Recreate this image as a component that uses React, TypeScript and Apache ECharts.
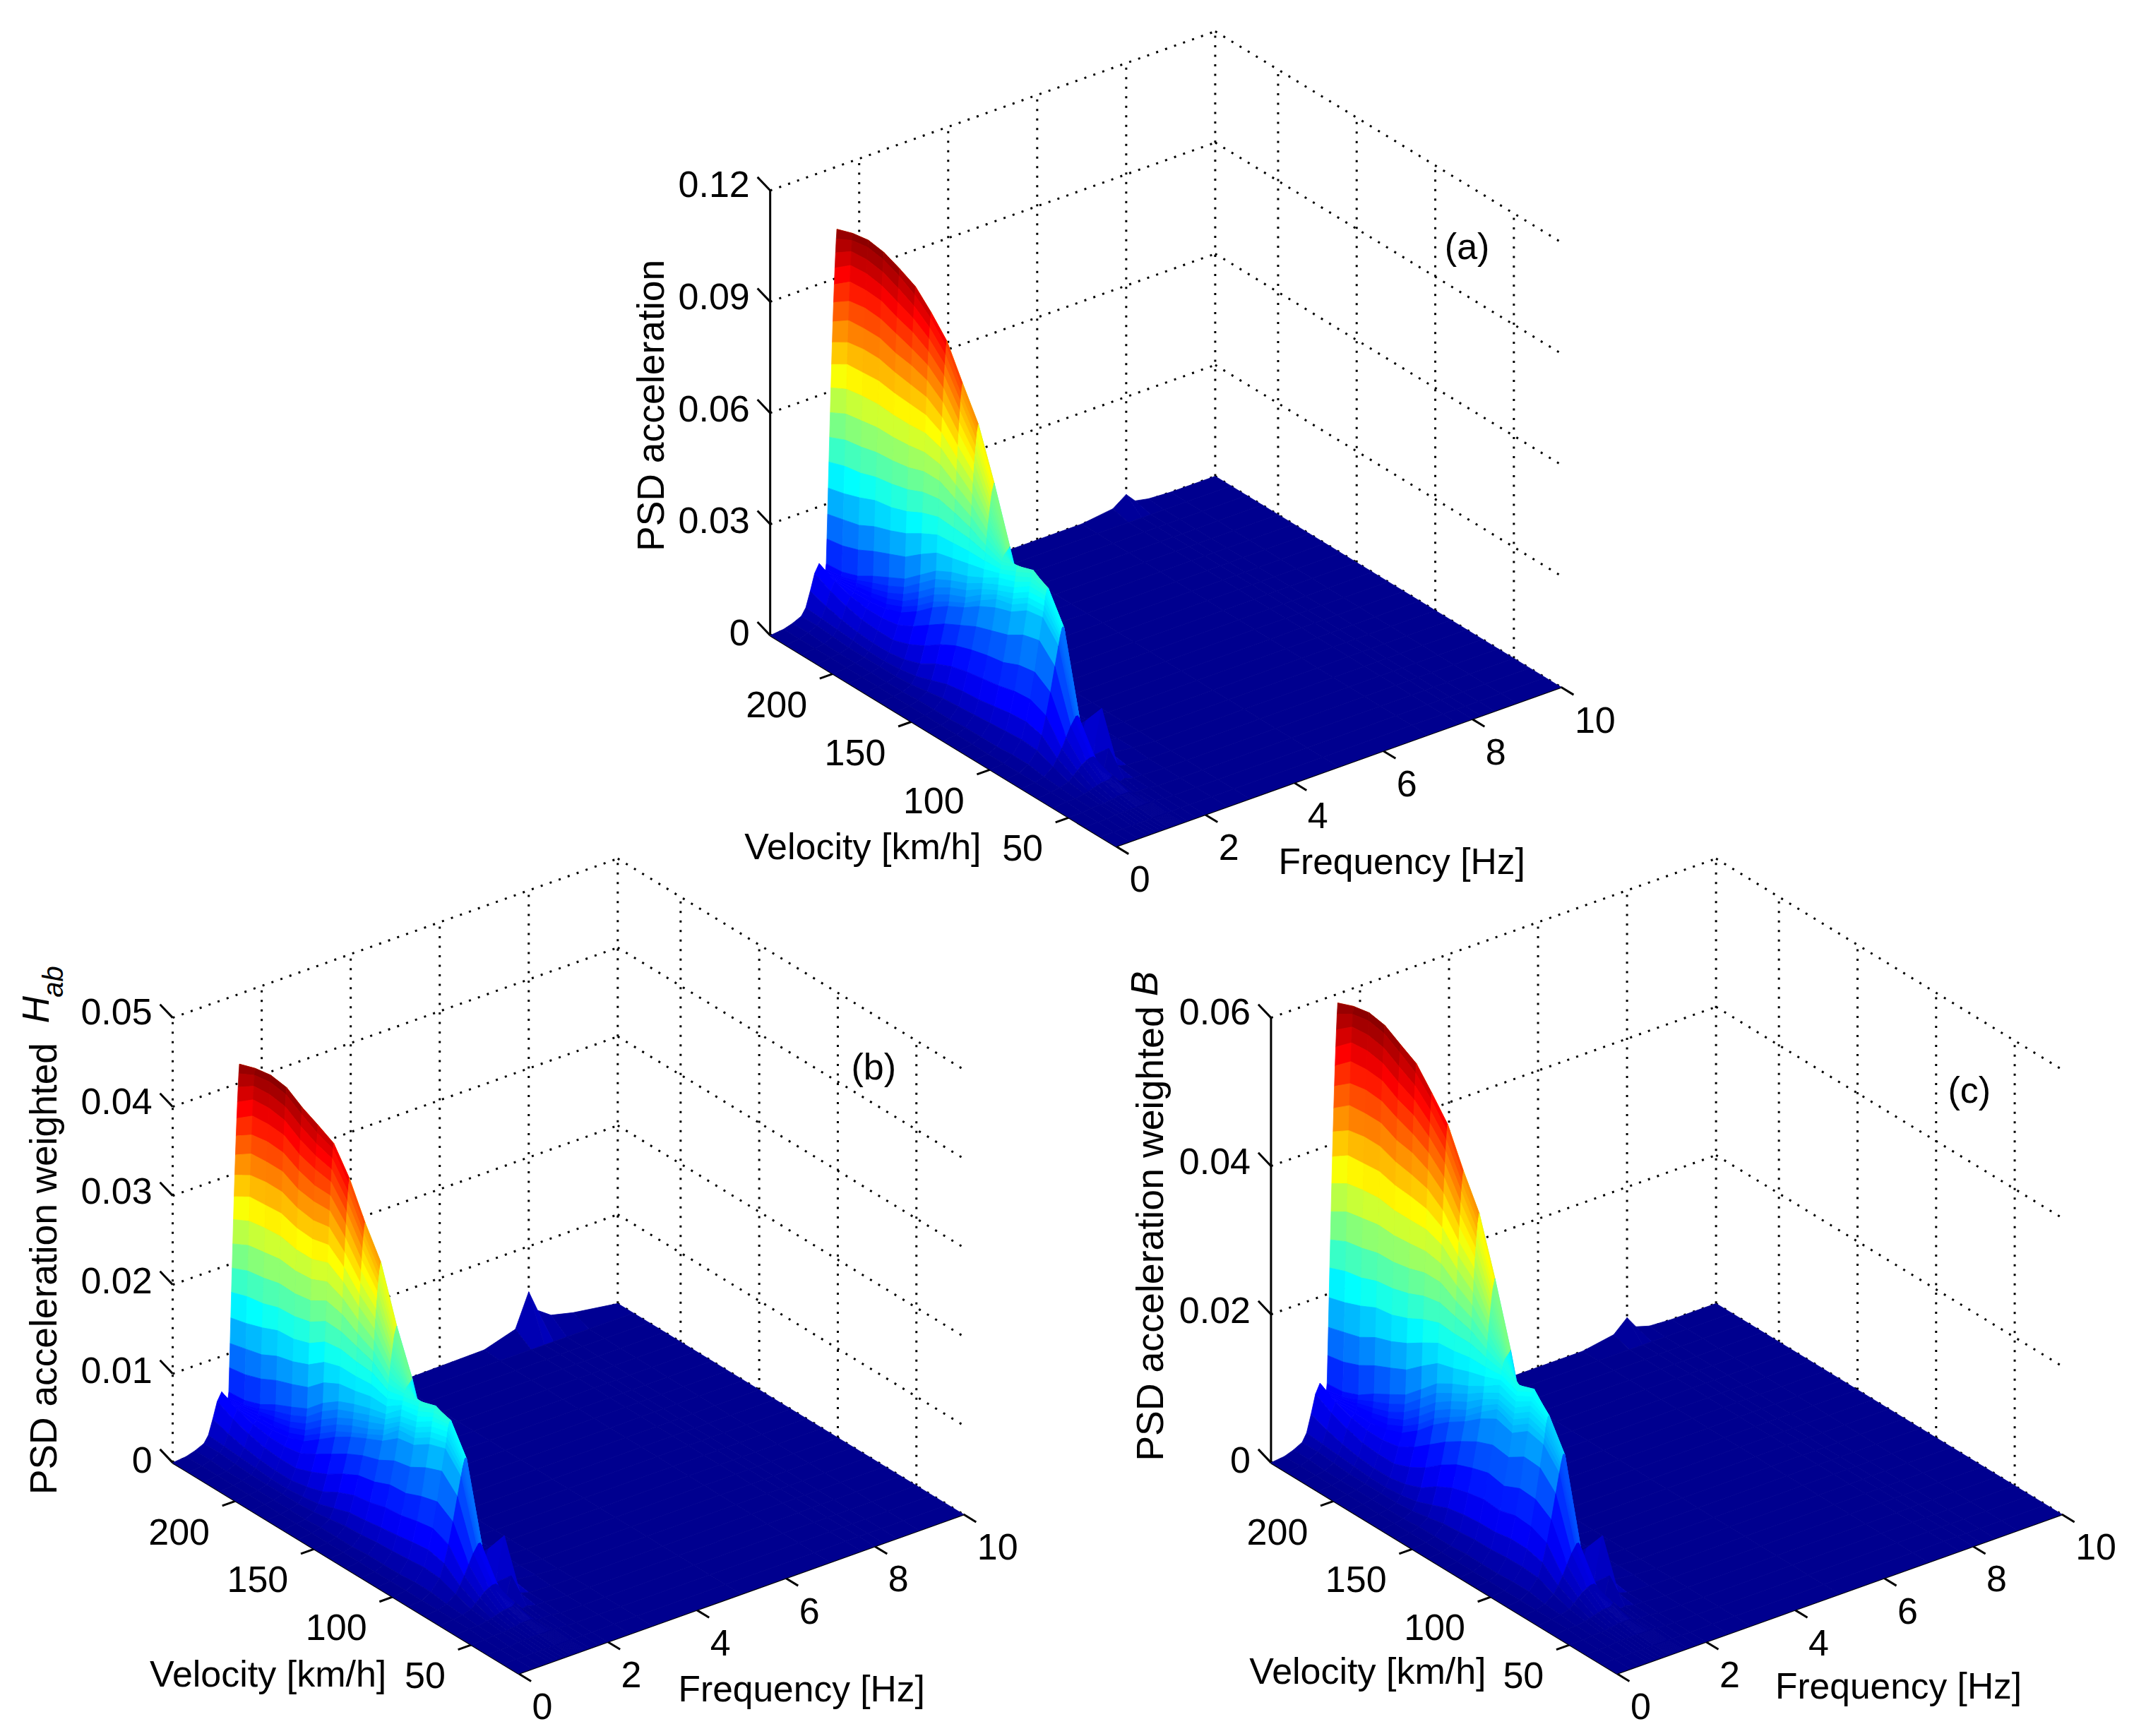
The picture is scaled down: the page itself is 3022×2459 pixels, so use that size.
import React, { useEffect, useRef } from "react";
import * as echarts from "echarts";

const W = 3022;
const H = 2459;
const S = W / 1568;
const FONT = "Liberation Sans";

const velocityTicks = [200, 150, 100, 50];
const frequencyTicks = [0, 2, 4, 6, 8, 10];
const zTicksA = ["0", "0.03", "0.06", "0.09", "0.12"];
const zTicksB = ["0", "0.01", "0.02", "0.03", "0.04", "0.05"];
const zTicksC = ["0", "0.02", "0.04", "0.06"];

// mesh lines of the surface
const velocities = [240, 230, 220, 210, 200, 190, 180, 170, 160, 150, 140, 130, 120, 110, 100, 90, 80, 70, 60, 50, 40, 30, 20];
const frequencies = [
  0, 0.3, 0.5, 0.7, 0.8, 0.9, 1.0, 1.1, 1.18,
  1.2, 1.215, 1.23, 1.245, 1.26, 1.275, 1.29, 1.305, 1.32, 1.335, 1.35, 1.365, 1.38, 1.395, 1.41, 1.425, 1.44, 1.455, 1.47, 1.485, 1.5,
  1.6, 1.8, 2.0, 2.5, 3,
  5, 7, 7.7, 8, 8.2, 8.5, 9, 10,
];

// surface height, one line per velocity, 327 = top of the z axis
const surfaceHeights = [
  [0,1,3,6,11,22,34,40,35, 33,33,33,34, 38,56,74,93,112,130,148,166,183,199,214,228,241,253,264,274,281, 160,30,10,3,1],
  [0,1,3,6,10,18,28,34,32, 33,34,35,36, 39,58,77,96,116,135,154,172,190,206,222,236,250,262,272,280,285, 165,32,10,3,1],
  [0,1,2,5,9,15,24,30,32, 34,36,38,40, 43,62,80,100,118,137,156,174,191,208,223,238,251,263,273,282,287, 160,29,9,3,1],
  [0,1,2,4,8,13,21,28,32, 35,38,41,45, 50,68,86,105,122,140,158,175,192,208,223,237,250,261,271,280,285, 158,29,9,3,1],
  [0,1,2,4,7,12,20,28,34, 37,41,45,50, 56,73,90,107,124,141,158,174,190,205,219,233,245,256,266,275,280, 155,28,9,3,1],
  [0,1,2,4,7,12,20,30,38, 42,46,51,56, 62,78,95,111,127,143,159,174,189,203,217,229,241,251,260,268,274, 150,27,9,3,1],
  [0,1,2,4,8,14,24,36,46, 50,55,60,66, 72,87,102,117,132,147,161,175,188,201,213,224,234,243,251,258,262, 145,26,8,2,1],
  [0,1,2,5,10,18,30,44,56, 60,65,70,76, 82,95,108,121,134,147,159,171,182,193,204,214,223,231,238,244,248, 135,25,8,2,0],
  [0,1,3,7,14,25,38,52,64, 67,72,77,82, 88,98,109,120,131,141,151,161,170,179,188,196,204,211,216,221,224, 125,22,7,2,0],
  [0,1,3,9,18,30,44,58,70, 73,77,82,87, 92,101,110,119,127,135,143,151,159,166,173,179,185,190,195,198,201, 110,20,6,2,0],
  [0,1,3,10,20,33,48,64,78, 82,86,90,94, 98,104,110,116,121,126,131,136,140,144,148,152,156,159,161,163,165, 90,18,5,1,0],
  [0,1,4,11,21,35,51,68,84, 90,93,96,100, 105,108,111,114,116,118,119,120,121,121,122,122,123,123,124,124,125, 65,14,4,1,0],
  [0,1,4,12,23,37,53,72,88, 93,97,101,105, 109,113,116,119,120,120,119,117,115,112,108,105,102,98,93,89,85, 40,9,3,1,0],
  [0,1,4,13,25,40,58,79,96, 101,105,109,113, 116,119,122,124,124,122,118,112,105,98,90,82,74,67,60,55,50, 22,6,2,1,0],
  [0,1,5,14,26,41,60,82,98, 102,106,110,113, 115,117,118,118,116,112,106,98,90,81,72,63,55,47,40,32,25, 12,8,2,1,0],
  [0,1,5,13,23,36,52,70,84, 87,90,92,94, 96,97,97,96,93,88,82,74,66,57,48,40,33,26,20,14,10, 5,22,3,1,0],
  [0,1,3,8,13,19,26,33,37, 38,39,39,39, 39,38,37,35,32,29,26,23,19,16,13,11,9,7,6,5,4, 6,38,3,1,0],
  [0,1,2,4,7,10,13,15,16, 16,16,16,16, 16,15,15,14,13,12,10,9,8,7,6,5,4,3,3,3,5, 18,3,1,0,0],
  [0,1,1,2,3,4,5,6,6, 6,6,6,6, 6,6,7,7,8,8,7,6,5,4,4,3,3,3,2,2,2, 3,1,1,0,0],
  [0,0,1,1,1,2,2,3,3, 3,3,3,3, 3,3,3,3,3,3,3,2,2,2,2,2,1,1,1,1,1, 1,1,0,0,0],
  [0,0,0,1,1,1,1,1,1, 1,1,1,1, 1,1,1,1,1,1,1,1,1,1,1,1,1,1,1,1,1, 1,0,0,0,0],
  [0,0,0,0,0,0,0,0,0, 0,0,0,0, 0,0,0,0,0,0,0,0,0,0,0,0,0,0,0,0,0, 0,0,0,0,0],
  [0,0,0,0,0,0,0,0,0, 0,0,0,0, 0,0,0,0,0,0,0,0,0,0,0,0,0,0,0,0,0, 0,0,0,0,0],
];

// per-velocity ratio of each panel's silhouette to panel (a)
const gainA = velocities.map(() => 1);
const gainB = [0.98,0.98,0.98,0.98,0.97,0.97,0.99,0.97,0.96,0.96,0.93,0.97,0.95,0.95,0.97,0.97,1,1,1,1,1,1,1];
const gainC = [1.14,1.14,1.14,1.14,1.135,1.135,1.13,1.13,1.13,1.14,1.14,1.14,1.05,1.05,1,1,1,1,1,1,1,1,1];

// back edge (v = 240) resonance at frequencies 5, 7, 7.7, 8, 8.2, 8.5, 9, 10
const backEdgeA = [0, 0, 3, 10, 3, 1, 0, 0];
const backEdgeB = [0, 1, 8, 32, 16, 9, 5, 0];
const backEdgeC = [0, 0, 4, 13, 4, 1, 0, 0];

const panels = [
  { name: "a", x0: 820, y0: 622, ticks: zTicksA, gain: gainA, back: backEdgeA, dottedAxis: false, tag: "(a)", tagX: 1078, tagY: 181, velX: 634, velY: 622, freqX: 1030, freqY: 633 },
  { name: "b", x0: 381, y0: 1230, ticks: zTicksB, gain: gainB, back: backEdgeB, dottedAxis: true, tag: "(b)", tagX: 642, tagY: 784, velX: 197, velY: 1230, freqX: 589, freqY: 1241 },
  { name: "c", x0: 1188, y0: 1230, ticks: zTicksC, gain: gainC, back: backEdgeC, dottedAxis: false, tag: "(c)", tagX: 1447, tagY: 801, velX: 1005, velY: 1228, freqX: 1395, freqY: 1239 },
];

type Panel = (typeof panels)[number];

function project(p: Panel, f: number, v: number, h: number): [number, number] {
  const w = v - 20;
  return [S * (p.x0 + 32.7 * f - 1.155 * w), S * (p.y0 - 11.7 * f - 0.7045 * w - 327 * h)];
}

function heightAt(p: Panel, k: number, j: number): number {
  const n = surfaceHeights[k].length;
  if (j < n) return (surfaceHeights[k][j] * p.gain[k]) / 327;
  return k === 0 ? p.back[j - n] / 327 : 0;
}

function jet(t: number): string {
  const c = (x: number) => Math.round(255 * Math.max(0, Math.min(1, x)));
  return `rgb(${c(Math.min(4 * t - 1.5, -4 * t + 4.5))},${c(Math.min(4 * t - 0.5, -4 * t + 3.5))},${c(Math.min(4 * t + 0.56, -4 * t + 2.5))})`;
}

function surfaceSeries(p: Panel) {
  const cells: number[][] = [];
  for (let k = 0; k < velocities.length - 1; k++) {
    for (let j = frequencies.length - 2; j >= 0; j--) cells.push([k, j]);
  }
  let top = 0;
  for (let k = 0; k < velocities.length; k++) {
    for (let j = 0; j < frequencies.length; j++) top = Math.max(top, heightAt(p, k, j));
  }
  return {
    type: "custom",
    coordinateSystem: "cartesian2d",
    clip: false,
    silent: true,
    progressive: 0,
    data: cells,
    z: 3,
    renderItem: (_: any, api: any) => {
      const k = api.value(0);
      const j = api.value(1);
      const corners: [number, number][] = [[k, j], [k + 1, j], [k + 1, j + 1], [k, j + 1]];
      let sum = 0;
      const points = corners.map(([a, b]) => {
        const h = heightAt(p, a, b);
        sum += h;
        return api.coord(project(p, frequencies[b], velocities[a], h));
      });
      const fill = jet(sum / 4 / top);
      return { type: "polygon", shape: { points }, style: { fill, stroke: fill, lineWidth: 0.8 } };
    },
  };
}

function wallSeries(p: Panel) {
  const lines: number[][] = [];
  const vMax = 240;
  const vMin = 20;
  const count = p.ticks.length - 1;
  // kinds: 0 dotted, 1 solid
  for (let i = 0; i <= count; i++) {
    const h = i / count;
    lines.push([0, vMax, h, 10, vMax, h, 0]);
    lines.push([10, vMax, h, 10, vMin, h, 0]);
    lines.push([0, vMax, h, 0, vMax + 18 / 1.155 / S, h + 8 / S / 327, 1]);
  }
  frequencyTicks.slice(1).forEach((f) => lines.push([f, vMax, 0, f, vMax, 1, 0]));
  velocityTicks.forEach((v) => lines.push([10, v, 0, 10, v, 1, 0]));
  lines.push([0, vMax, 0, 0, vMax, 1, p.dottedAxis ? 0 : 1]);
  lines.push([0, vMax, 0, 0, vMin, 0, 1]);
  lines.push([0, vMin, 0, 10, vMin, 0, 1]);
  velocityTicks.forEach((v) => lines.push([0, v, 0, -0.3, v, 0, 1]));
  frequencyTicks.forEach((f) => lines.push([f, vMin, 0, f, vMin - 8, 0, 1]));
  return {
    type: "custom",
    coordinateSystem: "cartesian2d",
    clip: false,
    silent: true,
    progressive: 0,
    data: lines,
    z: 2,
    renderItem: (_: any, api: any) => {
      const a = api.coord(project(p, api.value(0), api.value(1), api.value(2)));
      const b = api.coord(project(p, api.value(3), api.value(4), api.value(5)));
      const solid = api.value(6) === 1;
      return {
        type: "line",
        shape: { x1: a[0], y1: a[1], x2: b[0], y2: b[1] },
        style: { stroke: "#000", lineWidth: 3, lineDash: solid ? undefined : [3, 10.5], fill: "none" },
      };
    },
  };
}

function text(str: string, x: number, y: number, align = "center", extra: any = {}, rotation = 0) {
  return {
    type: "text",
    x,
    y,
    rotation,
    silent: true,
    z: 10,
    style: { text: str, fontFamily: FONT, fontSize: 52, fill: "#000", textAlign: align, textVerticalAlign: "middle", ...extra },
  };
}

function panelTexts(p: Panel) {
  const out: any[] = [];
  const count = p.ticks.length - 1;
  p.ticks.forEach((t, i) => {
    const h = i / count;
    const [x, y] = project(p, 0, 240, h);
    out.push(text(t, x - 15 * S, y - (4.5 - 2.5 * (1 - h)) * S, "right"));
  });
  velocityTicks.forEach((v) => {
    const [x, y] = project(p, 0, v, 0);
    out.push(text(String(v), x - 19 * S, y + 22.5 * S, "right"));
  });
  frequencyTicks.forEach((f) => {
    const [x, y] = project(p, f, 20, 0);
    out.push(text(String(f), x + 10 * S, y + 24 * S, "left"));
  });
  out.push(text("Velocity [km/h]", p.velX * S, p.velY * S));
  out.push(text("Frequency [Hz]", p.freqX * S, p.freqY * S, "center", { fontSize: 51.5 }));
  out.push(text(p.tag, p.tagX * S, p.tagY * S));
  return out;
}

const zTitles = [
  text("PSD acceleration", 478 * S, 298 * S, "center", { fontSize: 53.5 }, Math.PI / 2),
  text("PSD acceleration weighted", 32 * S, 932.4 * S, "center", { fontSize: 53.3 }, Math.PI / 2),
  text("H", 26 * S, 742 * S, "center", { fontStyle: "italic", fontSize: 53 }, Math.PI / 2),
  text("ab", 39 * S, 721.5 * S, "center", { fontStyle: "italic", fontSize: 40 }, Math.PI / 2),
  text("PSD acceleration weighted", 844.7 * S, 906.7 * S, "center", { fontSize: 53.7 }, Math.PI / 2),
  text("B", 840.6 * S, 723 * S, "center", { fontStyle: "italic", fontSize: 53 }, Math.PI / 2),
];

export default function App() {
  const ref = useRef<HTMLDivElement>(null);
  useEffect(() => {
    const chart = echarts.init(ref.current!, undefined, { renderer: "svg" });
    chart.setOption({
      animation: false,
      backgroundColor: "#fff",
      grid: { left: 0, right: 0, top: 0, bottom: 0 },
      xAxis: { type: "value", min: 0, max: W, show: false },
      yAxis: { type: "value", min: 0, max: H, inverse: true, show: false },
      series: panels.flatMap((p) => [wallSeries(p), surfaceSeries(p)]),
      graphic: { elements: [...panels.flatMap(panelTexts), ...zTitles] },
    });
    return () => chart.dispose();
  }, []);
  return <div ref={ref} style={{ position: "fixed", left: 0, top: 0, width: W, height: H }} />;
}
